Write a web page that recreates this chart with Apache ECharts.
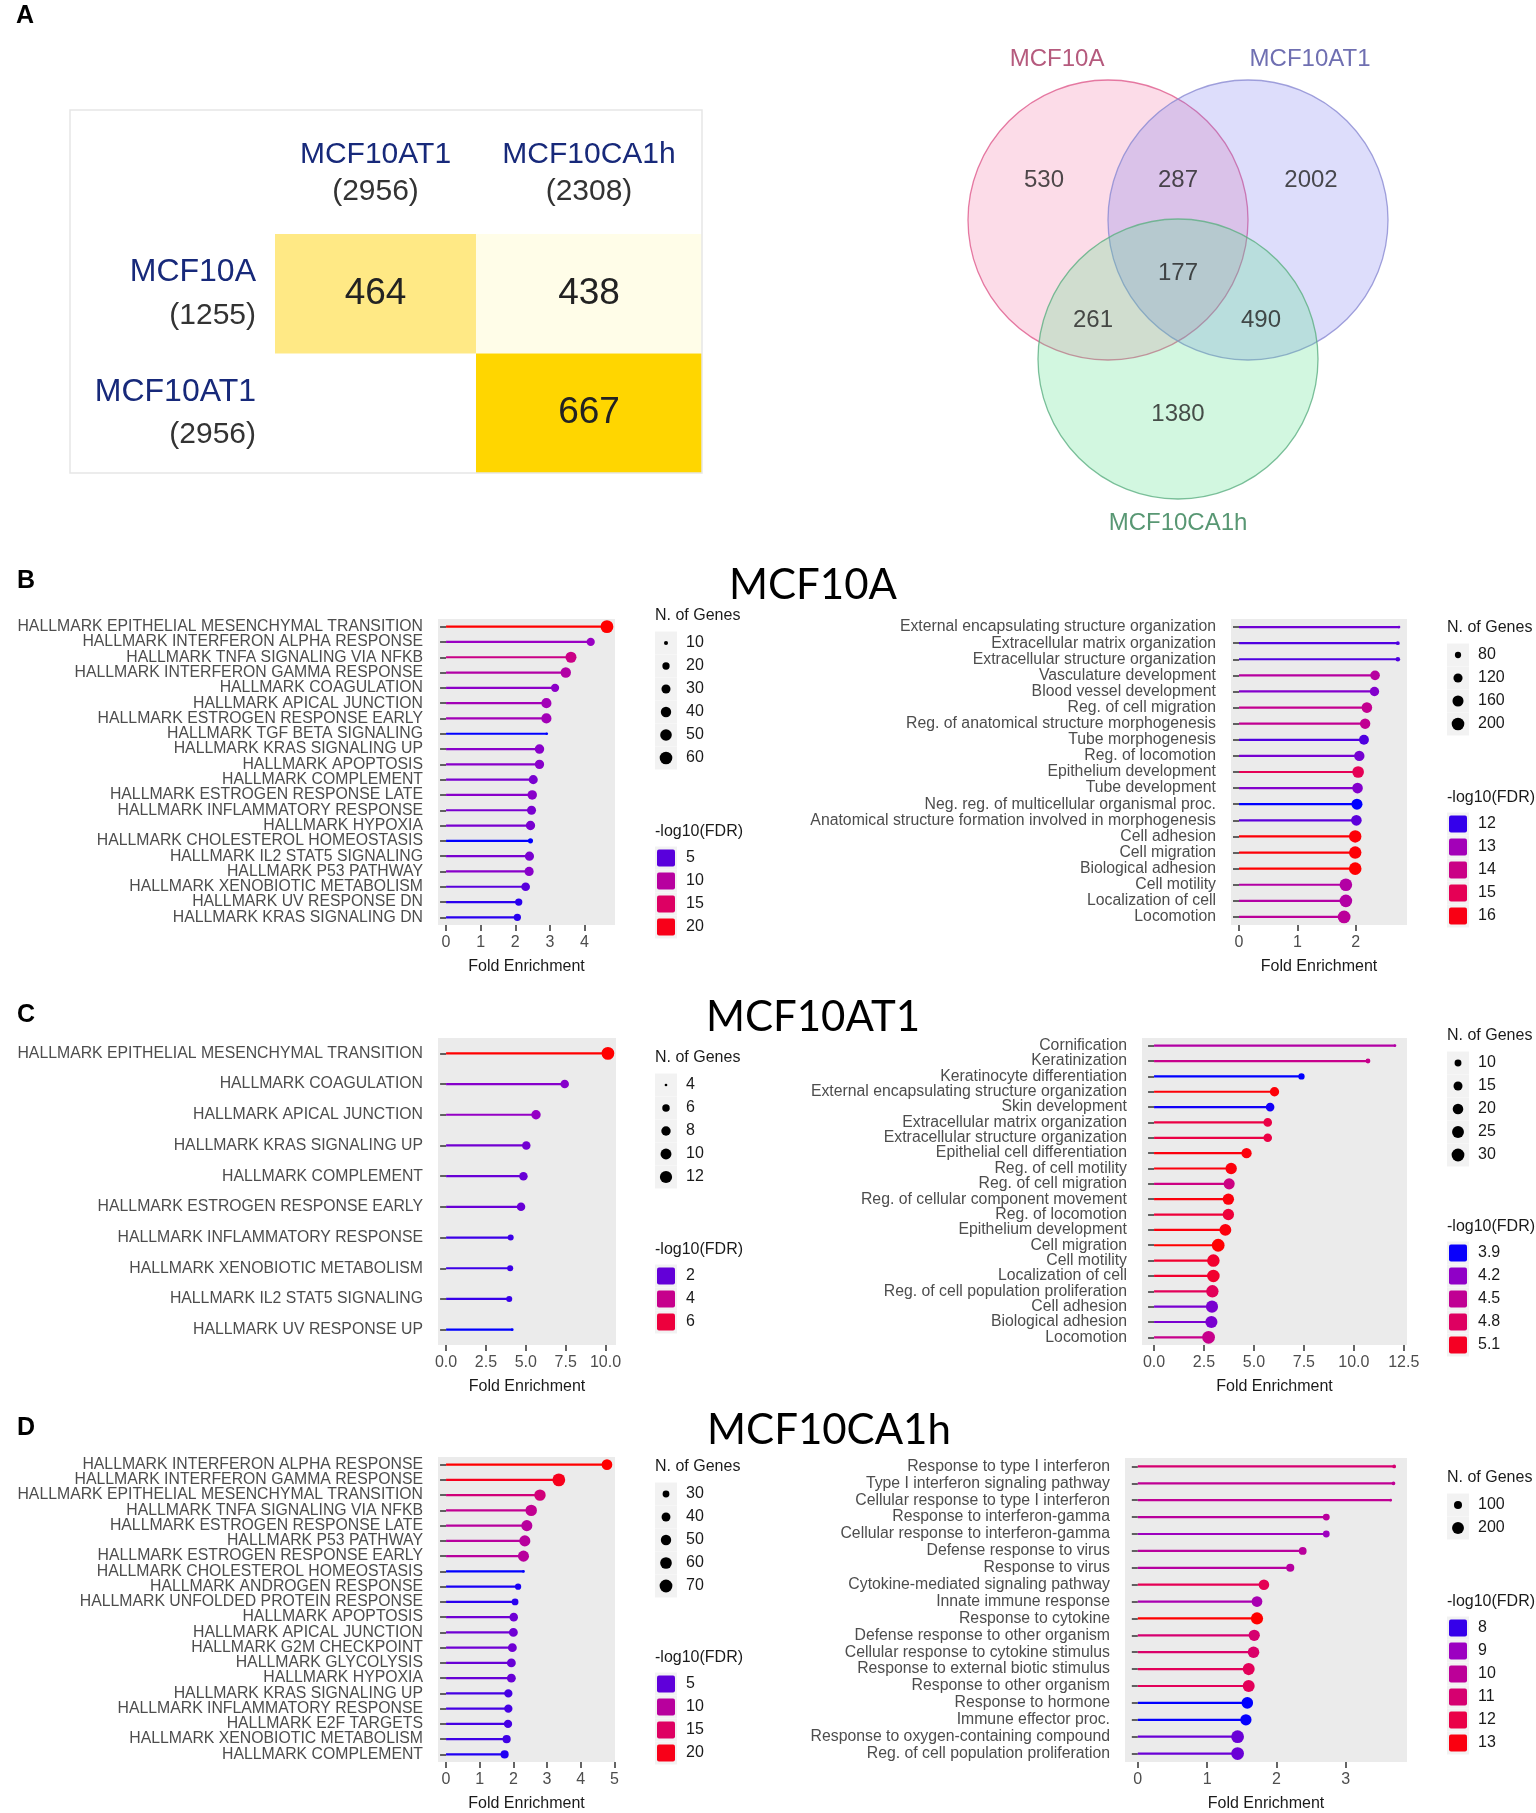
<!DOCTYPE html>
<html><head><meta charset="utf-8">
<script src="https://cdn.jsdelivr.net/npm/echarts@6/dist/echarts.min.js"></script>
<style>html,body{margin:0;padding:0;background:#fff}#c{width:1536px;height:1813px}</style>
</head><body><div id="c"></div>
<script>
// ---------------- Panel A data ----------------
const tableCols = ['MCF10AT1', 'MCF10CA1h'];
const tableColCounts = [2956, 2308];
const tableRows = ['MCF10A', 'MCF10AT1'];
const tableRowCounts = [1255, 2956];
const tableOverlap = [[0, 0, 464], [1, 0, 438], [1, 1, 667]]; // [col, row, shared]
const vennSets = ['MCF10A', 'MCF10AT1', 'MCF10CA1h'];
const vennRegions = ['A only', 'A&B', 'B only', 'A&B&C', 'A&C', 'B&C', 'C only'];
const vennCounts = [530, 287, 2002, 177, 261, 490, 1380];

// ---------------- Panel B (MCF10A) ----------------
const bLeftTerms = ['HALLMARK EPITHELIAL MESENCHYMAL TRANSITION','HALLMARK INTERFERON ALPHA RESPONSE','HALLMARK TNFA SIGNALING VIA NFKB','HALLMARK INTERFERON GAMMA RESPONSE','HALLMARK COAGULATION','HALLMARK APICAL JUNCTION','HALLMARK ESTROGEN RESPONSE EARLY','HALLMARK TGF BETA SIGNALING','HALLMARK KRAS SIGNALING UP','HALLMARK APOPTOSIS','HALLMARK COMPLEMENT','HALLMARK ESTROGEN RESPONSE LATE','HALLMARK INFLAMMATORY RESPONSE','HALLMARK HYPOXIA','HALLMARK CHOLESTEROL HOMEOSTASIS','HALLMARK IL2 STAT5 SIGNALING','HALLMARK P53 PATHWAY','HALLMARK XENOBIOTIC METABOLISM','HALLMARK UV RESPONSE DN','HALLMARK KRAS SIGNALING DN'];
const bLeftFE = [4.65,4.18,3.61,3.46,3.15,2.90,2.90,2.91,2.70,2.70,2.52,2.49,2.47,2.44,2.44,2.41,2.40,2.30,2.10,2.06];
const bLeftFDR = [21.5,7.0,12.0,9.5,6.6,8.0,8.0,2.2,6.5,6.5,6.0,6.5,6.0,6.0,2.2,6.0,6.5,5.0,3.5,3.5];
const bLeftGenes = [62,25,45,40,25,38,38,9,33,32,30,33,30,32,12,31,31,28,20,20];
const bLeftTicks = [0,1,2,3,4];
const bLeftSizeBreaks = [10,20,30,40,50,60];
const bLeftColorBreaks = [5,10,15,20];

const bRightTerms = ['External encapsulating structure organization','Extracellular matrix organization','Extracellular structure organization','Vasculature development','Blood vessel development','Reg. of cell migration','Reg. of anatomical structure morphogenesis','Tube morphogenesis','Reg. of locomotion','Epithelium development','Tube development','Neg. reg. of multicellular organismal proc.','Anatomical structure formation involved in morphogenesis','Cell adhesion','Cell migration','Biological adhesion','Cell motility','Localization of cell','Locomotion'];
const bRightFE = [2.74,2.72,2.72,2.33,2.32,2.19,2.16,2.14,2.06,2.04,2.03,2.02,2.01,1.99,1.99,1.99,1.83,1.83,1.80];
const bRightFDR = [12.45,12.2,12.2,13.5,12.6,13.8,13.75,12.2,12.5,15.0,12.6,11.6,12.3,16.2,16.2,16.3,13.4,13.4,13.6];
const bRightGenes = [62,64,67,130,125,150,145,135,145,175,150,160,150,195,195,200,200,200,205];
const bRightTicks = [0,1,2];
const bRightSizeBreaks = [80,120,160,200];
const bRightColorBreaks = [12,13,14,15,16];

// ---------------- Panel C (MCF10AT1) ----------------
const cLeftTerms = ['HALLMARK EPITHELIAL MESENCHYMAL TRANSITION','HALLMARK COAGULATION','HALLMARK APICAL JUNCTION','HALLMARK KRAS SIGNALING UP','HALLMARK COMPLEMENT','HALLMARK ESTROGEN RESPONSE EARLY','HALLMARK INFLAMMATORY RESPONSE','HALLMARK XENOBIOTIC METABOLISM','HALLMARK IL2 STAT5 SIGNALING','HALLMARK UV RESPONSE UP'];
const cLeftFE = [10.15,7.44,5.64,5.03,4.85,4.70,4.05,4.02,3.96,4.15];
const cLeftFDR = [7.2,2.35,2.5,2.15,2.05,2.05,1.6,1.6,1.55,1.0];
const cLeftGenes = [13,7,8,7,7,7,5,5,5,4];
const cLeftTicks = [0,2.5,5,7.5,10];
const cLeftSizeBreaks = [4,6,8,10,12];
const cLeftColorBreaks = [2,4,6];

const cRightTerms = ['Cornification','Keratinization','Keratinocyte differentiation','External encapsulating structure organization','Skin development','Extracellular matrix organization','Extracellular structure organization','Epithelial cell differentiation','Reg. of cell motility','Reg. of cell migration','Reg. of cellular component movement','Reg. of locomotion','Epithelium development','Cell migration','Cell motility','Localization of cell','Reg. of cell population proliferation','Cell adhesion','Biological adhesion','Locomotion'];
const cRightFE = [12.06,10.71,7.38,6.03,5.81,5.69,5.69,4.63,3.86,3.76,3.72,3.72,3.57,3.21,2.97,2.97,2.92,2.90,2.87,2.73];
const cRightFDR = [4.4,4.55,3.88,5.22,3.92,4.95,4.95,5.2,5.2,4.6,5.2,5.0,5.2,5.25,5.05,5.05,4.85,4.15,4.15,4.55];
const cRightGenes = [6,7,9,16,14,14,14,19,23,22,23,23,25,29,28,28,27,26,26,29];
const cRightTicks = [0,2.5,5,7.5,10,12.5];
const cRightSizeBreaks = [10,15,20,25,30];
const cRightColorBreaks = [3.9,4.2,4.5,4.8,5.1];

// ---------------- Panel D (MCF10CA1h) ----------------
const dLeftTerms = ['HALLMARK INTERFERON ALPHA RESPONSE','HALLMARK INTERFERON GAMMA RESPONSE','HALLMARK EPITHELIAL MESENCHYMAL TRANSITION','HALLMARK TNFA SIGNALING VIA NFKB','HALLMARK ESTROGEN RESPONSE LATE','HALLMARK P53 PATHWAY','HALLMARK ESTROGEN RESPONSE EARLY','HALLMARK CHOLESTEROL HOMEOSTASIS','HALLMARK ANDROGEN RESPONSE','HALLMARK UNFOLDED PROTEIN RESPONSE','HALLMARK APOPTOSIS','HALLMARK APICAL JUNCTION','HALLMARK G2M CHECKPOINT','HALLMARK GLYCOLYSIS','HALLMARK HYPOXIA','HALLMARK KRAS SIGNALING UP','HALLMARK INFLAMMATORY RESPONSE','HALLMARK E2F TARGETS','HALLMARK XENOBIOTIC METABOLISM','HALLMARK COMPLEMENT'];
const dLeftFE = [4.78,3.35,2.79,2.53,2.40,2.34,2.30,2.30,2.14,2.05,2.01,2.00,1.97,1.94,1.94,1.85,1.85,1.84,1.80,1.74];
const dLeftFDR = [21.5,19.8,13.0,11.0,10.0,10.0,10.0,2.0,2.8,3.3,5.5,5.5,5.5,5.3,5.3,4.2,4.2,4.2,4.0,3.0];
const dLeftGenes = [52,70,58,58,55,55,55,22,28,30,38,40,40,40,40,37,37,37,36,36];
const dLeftTicks = [0,1,2,3,4,5];
const dLeftSizeBreaks = [30,40,50,60,70];
const dLeftColorBreaks = [5,10,15,20];

const dRightTerms = ['Response to type I interferon','Type I interferon signaling pathway','Cellular response to type I interferon','Response to interferon-gamma','Cellular response to interferon-gamma','Defense response to virus','Response to virus','Cytokine-mediated signaling pathway','Innate immune response','Response to cytokine','Defense response to other organism','Cellular response to cytokine stimulus','Response to external biotic stimulus','Response to other organism','Response to hormone','Immune effector proc.','Response to oxygen-containing compound','Reg. of cell population proliferation'];
const dRightFE = [3.70,3.69,3.65,2.72,2.72,2.38,2.20,1.82,1.72,1.72,1.68,1.67,1.60,1.60,1.58,1.56,1.44,1.44];
const dRightFDR = [11.0,10.1,10.1,9.9,9.05,9.9,9.8,11.7,9.4,13.3,11.0,11.2,11.6,11.6,7.5,7.55,8.5,8.5];
const dRightGenes = [50,50,48,80,78,95,100,160,165,210,180,190,205,205,190,180,232,232];
const dRightTicks = [0,1,2,3];
const dRightSizeBreaks = [100,200];
const dRightColorBreaks = [8,9,10,11,12,13];

// ---------------- layout / style ----------------
const FONT = '"Liberation Sans", Arial, sans-serif';
const ramp = ['#0000FF', '#9A00C3', '#C90088', '#E8004F', '#FF0000'];
const AXIS_TXT = '#4D4D4D';
// table column boundaries as fractions of the table body width (layout)
const colEdges = [0, 0.4707, 1];
const colCenters = [(colEdges[0] + colEdges[1]) / 2, (colEdges[1] + colEdges[2]) / 2];

const panels = [
  {terms: bLeftTerms, fe: bLeftFE, fdr: bLeftFDR, genes: bLeftGenes, ticks: bLeftTicks, sb: bLeftSizeBreaks, cb: bLeftColorBreaks, dec: 0,
   grid: {left: 438, top: 619, width: 177, height: 306}, leg: {x: 655, sizeY: 616, colorY: 832}},
  {terms: bRightTerms, fe: bRightFE, fdr: bRightFDR, genes: bRightGenes, ticks: bRightTicks, sb: bRightSizeBreaks, cb: bRightColorBreaks, dec: 0,
   grid: {left: 1231, top: 619, width: 176, height: 306}, leg: {x: 1447, sizeY: 628, colorY: 798}},
  {terms: cLeftTerms, fe: cLeftFE, fdr: cLeftFDR, genes: cLeftGenes, ticks: cLeftTicks, sb: cLeftSizeBreaks, cb: cLeftColorBreaks, dec: 1,
   grid: {left: 438, top: 1038, width: 178, height: 307}, leg: {x: 655, sizeY: 1058, colorY: 1250}},
  {terms: cRightTerms, fe: cRightFE, fdr: cRightFDR, genes: cRightGenes, ticks: cRightTicks, sb: cRightSizeBreaks, cb: cRightColorBreaks, dec: 1,
   grid: {left: 1142, top: 1038, width: 265, height: 307}, leg: {x: 1447, sizeY: 1036, colorY: 1227}},
  {terms: dLeftTerms, fe: dLeftFE, fdr: dLeftFDR, genes: dLeftGenes, ticks: dLeftTicks, sb: dLeftSizeBreaks, cb: dLeftColorBreaks, dec: 0,
   grid: {left: 438, top: 1457, width: 177, height: 308}, leg: {x: 655, sizeY: 1467, colorY: 1658}},
  {terms: dRightTerms, fe: dRightFE, fdr: dRightFDR, genes: dRightGenes, ticks: dRightTicks, sb: dRightSizeBreaks, cb: dRightColorBreaks, dec: 0,
   grid: {left: 1125, top: 1458, width: 282, height: 307}, leg: {x: 1447, sizeY: 1478, colorY: 1602}}
];

// Venn geometry (units of circle radius, in a hidden value grid)
const vennLayout = {
  circles: [
    {c: [-0.5, 0.5], fill: 'rgba(242,95,150,0.27)', stroke: '#DE5A8C'},
    {c: [0.5, 0.5], fill: 'rgba(115,115,240,0.30)', stroke: '#8A8AD2'},
    {c: [0, -0.493], fill: 'rgba(80,225,135,0.32)', stroke: '#5DAF82'}
  ],
  countPos: [[-0.957, 0.786], [0, 0.786], [0.95, 0.786], [0, 0.121], [-0.607, -0.214], [0.593, -0.214], [0, -0.886]],
  namePos: [[-0.864, 1.65], [0.943, 1.65], [0, -1.664]],
  nameColors: ['#A2315D', '#4B4B9E', '#2E7D50']
};

function makeSizeFn(genes) {
  const lo = Math.min(...genes), hi = Math.max(...genes);
  return v => {
    let t = (v - lo) / (hi - lo);
    t = Math.max(0, Math.min(1, t));
    return 2.7 + 10.1 * Math.sqrt(t);
  };
}

const grids = [
  {left: 275, top: 234, width: 427, height: 239},
  {left: 828, top: 10, width: 700, height: 560}
];
const xAxes = [
  {gridIndex: 0, type: 'value', min: 0, max: 1, position: 'top',
   axisLine: {show: false}, axisTick: {show: false}, splitLine: {show: false},
   axisLabel: {margin: 24, customValues: colCenters,
     formatter: v => {
       const i = Math.abs(v - colCenters[0]) < Math.abs(v - colCenters[1]) ? 0 : 1;
       return '{n|' + tableCols[i] + '}\n{c|(' + tableColCounts[i] + ')}';
     },
     rich: {n: {fontSize: 30, color: '#17297A', lineHeight: 37, fontFamily: FONT},
            c: {fontSize: 30, color: '#333333', lineHeight: 37, fontFamily: FONT}}}},
  {gridIndex: 1, type: 'value', min: -2.5, max: 2.5, show: false}
];
const yAxes = [
  {gridIndex: 0, type: 'category', data: tableRows, inverse: true,
   axisLine: {show: false}, axisTick: {show: false}, splitLine: {show: false},
   axisLabel: {margin: 19, interval: 0, align: 'right',
     formatter: (v, i) => '{n|' + v + '}\n{c|(' + tableRowCounts[i] + ')}',
     rich: {n: {fontSize: 32, color: '#17297A', lineHeight: 43, align: 'right', fontFamily: FONT},
            c: {fontSize: 30, color: '#333333', lineHeight: 43, align: 'right', fontFamily: FONT}}}},
  {gridIndex: 1, type: 'value', min: -2, max: 2, show: false}
];
const visualMaps = [
  {type: 'piecewise', show: false, seriesIndex: 0, dimension: 2,
   pieces: [{lt: 450, color: '#FFFDE8'}, {gte: 450, lt: 600, color: '#FFE985'}, {gte: 600, color: '#FFD600'}]}
];
const series = [
  {type: 'custom', xAxisIndex: 0, yAxisIndex: 0, silent: true, encode: {y: 1},
   data: tableOverlap,
   renderItem: (params, api) => {
     const col = api.value(0), row = api.value(1);
     const a = api.coord([colEdges[col], row]);
     const b = api.coord([colEdges[col + 1], row]);
     const h = api.size([0, 1])[1];
     return {type: 'group', children: [
       {type: 'rect', shape: {x: a[0], y: a[1] - h / 2, width: b[0] - a[0], height: h}, style: {fill: api.visual('color')}},
       {type: 'text', x: (a[0] + b[0]) / 2, y: a[1],
        style: {text: String(api.value(2)), fontSize: 37, fontFamily: FONT, fill: '#222', align: 'center', verticalAlign: 'middle'}}
     ]};
   }},
  {type: 'scatter', xAxisIndex: 1, yAxisIndex: 1, silent: true, symbol: 'circle', symbolSize: 280,
   data: vennLayout.circles.map(c => ({value: c.c, itemStyle: {color: c.fill, borderColor: c.stroke, borderWidth: 1.3}}))},
  {type: 'scatter', xAxisIndex: 1, yAxisIndex: 1, silent: true, symbolSize: 0, z: 5,
   data: vennCounts.map((v, i) => ({name: vennRegions[i], value: [vennLayout.countPos[i][0], vennLayout.countPos[i][1], v]})),
   label: {show: true, position: 'inside', formatter: p => p.value[2], fontSize: 24, color: '#222', fontFamily: FONT}},
  {type: 'scatter', xAxisIndex: 1, yAxisIndex: 1, silent: true, symbolSize: 0, z: 5,
   data: vennSets.map((s, i) => ({name: s, value: vennLayout.namePos[i],
     label: {color: vennLayout.nameColors[i]}})),
   label: {show: true, position: 'inside', formatter: p => p.name, fontSize: 24, fontFamily: FONT}}
];

const graphics = [
  {type: 'rect', shape: {x: 70, y: 110, width: 632, height: 363}, style: {fill: 'none', stroke: '#E6E6E6', lineWidth: 1.5}, z: 10},
  {type: 'text', x: 25, y: 16, style: {text: 'A', fontSize: 25, fontWeight: 'bold', fontFamily: FONT, fill: '#000', align: 'center', verticalAlign: 'middle'}},
  {type: 'text', x: 26, y: 581, style: {text: 'B', fontSize: 25, fontWeight: 'bold', fontFamily: FONT, fill: '#000', align: 'center', verticalAlign: 'middle'}},
  {type: 'text', x: 26, y: 1015, style: {text: 'C', fontSize: 25, fontWeight: 'bold', fontFamily: FONT, fill: '#000', align: 'center', verticalAlign: 'middle'}},
  {type: 'text', x: 26, y: 1428, style: {text: 'D', fontSize: 25, fontWeight: 'bold', fontFamily: FONT, fill: '#000', align: 'center', verticalAlign: 'middle'}},
  {type: 'text', x: 813, y: 585, style: {text: 'MCF10A', fontSize: 42, fontFamily: 'Lato, ' + FONT, fill: '#000', align: 'center', verticalAlign: 'middle'}},
  {type: 'text', x: 813, y: 1017, style: {text: 'MCF10AT1', fontSize: 42, fontFamily: 'Lato, ' + FONT, fill: '#000', align: 'center', verticalAlign: 'middle'}},
  {type: 'text', x: 829, y: 1430, style: {text: 'MCF10CA1h', fontSize: 42, fontFamily: 'Lato, ' + FONT, fill: '#000', align: 'center', verticalAlign: 'middle'}}
];

function colorOf(v, lo, hi) {
  let t = (v - lo) / (hi - lo);
  t = Math.max(0, Math.min(1, t));
  return echarts.color.lerp(t, ramp);
}

panels.forEach((p, k) => {
  const gi = 2 + k;
  const sizeFn = makeSizeFn(p.genes);
  const feMax = Math.max(...p.fe);
  const fLo = Math.min(...p.fdr), fHi = Math.max(...p.fdr);
  grids.push(Object.assign({show: true, backgroundColor: '#EBEBEB', borderWidth: 0}, p.grid));
  xAxes.push({gridIndex: gi, type: 'value', min: -0.05 * feMax, max: 1.05 * feMax,
    axisLine: {show: false}, splitLine: {show: false},
    axisTick: {show: true, length: 6, customValues: p.ticks, lineStyle: {color: '#333', width: 1.5}},
    axisLabel: {customValues: p.ticks, color: AXIS_TXT, fontSize: 16, margin: 10, fontFamily: FONT,
      formatter: v => Number(v).toFixed(p.dec)},
    name: 'Fold Enrichment', nameLocation: 'middle', nameGap: 34,
    nameTextStyle: {color: '#1A1A1A', fontSize: 16, fontFamily: FONT}});
  yAxes.push({gridIndex: gi, type: 'category', data: p.terms, inverse: true,
    axisLine: {show: false}, splitLine: {show: false},
    axisTick: {show: true, length: 6, alignWithLabel: true, lineStyle: {color: '#333', width: 1.5}},
    axisLabel: {interval: 0, color: AXIS_TXT, fontSize: 15.8, margin: 15, fontFamily: FONT}});
  visualMaps.push({type: 'continuous', show: false, seriesIndex: 4 + k, dimension: 2,
    min: fLo, max: fHi, inRange: {color: ramp}});
  series.push({type: 'custom', xAxisIndex: gi, yAxisIndex: gi, silent: true,
    encode: {x: 0, y: 1},
    data: p.terms.map((t, i) => [p.fe[i], i, p.fdr[i], p.genes[i]]),
    renderItem: (params, api) => {
      const y = api.value(1), x = api.value(0);
      const p0 = api.coord([0, y]), p1 = api.coord([x, y]);
      const col = api.visual('color');
      const r = sizeFn(api.value(3)) / 2;
      return {type: 'group', children: [
        {type: 'line', shape: {x1: p0[0], y1: p0[1], x2: p1[0], y2: p1[1]}, style: {stroke: col, lineWidth: 2.2}},
        {type: 'circle', shape: {cx: p1[0], cy: p1[1], r: r}, style: {fill: col}}
      ]};
    }});
  // legends
  const L = p.leg;
  graphics.push({type: 'text', x: L.x, y: L.sizeY, style: {text: 'N. of Genes', fontSize: 16, fontFamily: FONT, fill: '#1A1A1A', verticalAlign: 'middle'}});
  p.sb.forEach((b, i) => {
    const ky = L.sizeY + 27 + 23 * i;
    graphics.push({type: 'rect', shape: {x: L.x, y: ky - 11.5, width: 22, height: 23}, style: {fill: '#F2F2F2'}});
    graphics.push({type: 'circle', shape: {cx: L.x + 11, cy: ky, r: sizeFn(b) / 2}, style: {fill: '#000'}});
    graphics.push({type: 'text', x: L.x + 31, y: ky, style: {text: String(b), fontSize: 16, fontFamily: FONT, fill: '#1A1A1A', verticalAlign: 'middle'}});
  });
  graphics.push({type: 'text', x: L.x, y: L.colorY, style: {text: '-log10(FDR)', fontSize: 16, fontFamily: FONT, fill: '#1A1A1A', verticalAlign: 'middle'}});
  p.cb.forEach((b, i) => {
    const ky = L.colorY + 26 + 23 * i;
    graphics.push({type: 'rect', shape: {x: L.x, y: ky - 11.5, width: 22, height: 23}, style: {fill: '#F2F2F2'}});
    graphics.push({type: 'rect', shape: {x: L.x + 2, y: ky - 8.5, width: 18, height: 17, r: 2}, style: {fill: colorOf(b, fLo, fHi)}});
    graphics.push({type: 'text', x: L.x + 31, y: ky, style: {text: String(b), fontSize: 16, fontFamily: FONT, fill: '#1A1A1A', verticalAlign: 'middle'}});
  });
});

const chart = echarts.init(document.getElementById('c'), null, {renderer: 'canvas'});
chart.setOption({
  animation: false,
  backgroundColor: '#FFFFFF',
  textStyle: {fontFamily: FONT},
  grid: grids, xAxis: xAxes, yAxis: yAxes,
  visualMap: visualMaps, series: series,
  graphic: {elements: graphics}
});
</script></body></html>
